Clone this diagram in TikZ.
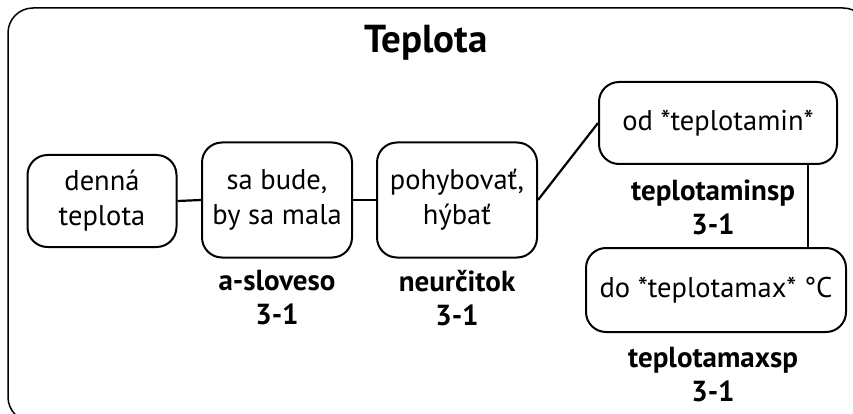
\documentclass[tikz,border=0pt]{standalone}
\usepackage{fontspec}
\setmainfont{PT Sans}
\begin{document}
\begin{tikzpicture}
[x=1pt,y=-1pt,
  boxdecorate/.style={shape=rectangle,rounded corners=20pt,draw,line width=2pt,
    align=center,inner sep=0pt,font=\fontsize{28.5}{35}\selectfont},
  labeldecorate/.style={align=center,font=\bfseries\fontsize{29}{34}\selectfont},
  linedecorate/.style={-,line width=2.2pt}]
\clip (0,0) rectangle (853,414);
%% frame and title
\draw[line width=1.5pt,rounded corners=25pt] (8,8) rectangle (868,422);
\node (title) at (426,43) [font=\bfseries\fontsize{39}{44}\selectfont] {Teplota};
%% nodes or boxes
\foreach \nodename/\x/\y/\w/\h/\txt in {a/102/201/149/92/{denná\\teplota},
  b/277/200/150/115/{sa bude,\\by sa mala}, c/457/200/160/115/{pohybovať,\\hýbať},
  d/718/123/238/82/{od *teplotamin*}, e/716/290/260/84/{do *teplotamax* °C}} {
  \node (\nodename) at (\x,\y) [boxdecorate,minimum width=\w pt,minimum height=\h pt] {\txt};
}
%% labels under the boxes
\foreach \nodename/\x/\y/\txt in {lb/277/298/a-sloveso, lc/457/298/neurčitok,
  ld/713/207/teplotaminsp, le/713/375/teplotamaxsp} {
  \node (\nodename) at (\x,\y) [labeldecorate] {\txt\\3-1};
}
%% edges or lines
\coordinate (dlink) at (808,0);
\path
\foreach \startnode/\endnode in {a.east/b.west, b.east/c.west, c.east/d.west} {
  (\startnode) edge[linedecorate] (\endnode)
};
\draw[linedecorate] (d.south -| dlink) -- (e.north -| dlink);
\end{tikzpicture}
\end{document}
